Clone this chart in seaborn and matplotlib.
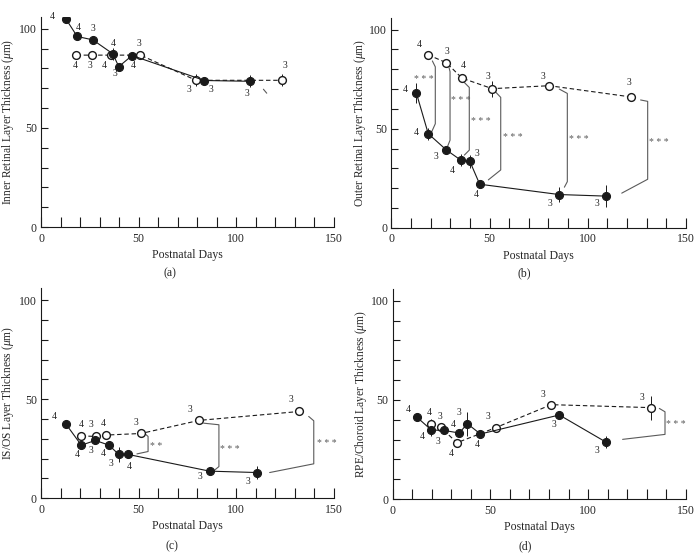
import matplotlib
matplotlib.use("Agg")
import matplotlib.pyplot as plt
import seaborn as sns
from matplotlib.ticker import MultipleLocator

# ---- data (days, thickness in um, error, n) ----
# panel a - inner retinal layer
a_filled_days = [12.6, 18.5, 26.5, 36.7, 39.8, 46.6, 83.7, 107.0]
a_filled = [105.1, 96.1, 94.4, 87.4, 80.9, 86.5, 73.9, 73.5]
a_filled_err = [1.0, 1.5, 1.5, 3.0, 2.0, 1.5, 2.0, 3.0]
a_filled_n = [4, 4, 3, 4, 3, 4, 3, 3]
a_open_days = [18.1, 26.1, 36.0, 50.9, 79.4, 123.5]
a_open = [86.7, 86.7, 86.7, 86.7, 74.0, 74.0]
a_open_err = [1.0, 1.0, 1.5, 1.0, 3.0, 3.0]
a_open_n = [4, 3, 4, 3, 3, 3]

# panel b - outer retinal layer
b_filled_days = [12.7, 18.8, 28.0, 35.3, 40.0, 45.0, 85.4, 109.3]
b_filled = [68.2, 47.5, 39.3, 34.2, 33.5, 22.0, 16.8, 16.0]
b_filled_err = [5.0, 3.0, 1.5, 3.0, 3.3, 1.5, 3.7, 5.5]
b_filled_n = [4, 4, 3, 4, 3, 4, 3, 3]
b_open_days = [18.7, 28.0, 36.0, 51.4, 80.4, 122.2]
b_open = [87.3, 83.3, 75.5, 70.2, 71.7, 66.0]
b_open_err = [1.0, 1.5, 1.5, 4.0, 1.5, 1.0]
b_open_n = [4, 3, 4, 3, 3, 3]

# panel c - IS/OS layer
c_filled_days = [12.6, 20.6, 27.8, 34.8, 39.8, 44.7, 86.3, 110.6]
c_filled = [37.6, 26.8, 29.2, 26.8, 22.1, 22.1, 13.7, 13.0]
c_filled_err = [1.0, 1.5, 1.5, 1.5, 4.0, 1.0, 1.5, 3.5]
c_filled_n = [4, 4, 3, 4, 3, 4, 3, 3]
c_open_days = [20.5, 28.0, 33.1, 51.2, 80.9, 132.3]
c_open = [31.5, 31.2, 31.9, 32.7, 39.3, 43.8]
c_open_err = [1.5, 1.5, 1.0, 1.0, 1.0, 1.0]
c_open_n = [4, 3, 4, 3, 3, 3]

# panel d - RPE/choroid layer
d_filled_days = [12.5, 19.8, 26.3, 34.1, 38.2, 44.9, 85.3, 109.2]
d_filled = [41.2, 34.8, 34.6, 33.3, 38.0, 32.8, 42.4, 28.7]
d_filled_err = [1.0, 3.0, 1.5, 1.5, 6.0, 1.0, 2.0, 3.0]
d_filled_n = [4, 4, 3, 4, 3, 4, 3, 3]
d_open_days = [19.5, 24.6, 32.9, 52.7, 81.2, 132.3]
d_open = [37.8, 36.1, 28.4, 36.0, 47.6, 46.1]
d_open_err = [2.5, 1.5, 1.0, 1.0, 1.0, 6.0]
d_open_n = [4, 3, 4, 3, 3, 3]

ylabels = ["Inner Retinal Layer Thickness ($\\mu$m)",
           "Outer Retinal Layer Thickness ($\\mu$m)",
           "IS/OS Layer Thickness ($\\mu$m)",
           "RPE/Choroid Layer Thickness ($\\mu$m)"]
panel_tags = ["(a)", "(b)", "(c)", "(d)"]

# ---- label offsets (points) for the n counts ----
a_filled_off = [(-9.8, 1.2), (0.7, 6.7), (0, 8.4), (0.7, 7.7), (-2.9, -5.3), (0.7, -7.4), (4.8, -6.7), (-1.9, -9.1)]
a_open_off = [(-0.7, -7.7), (-1.2, -7.7), (-5, -7.7), (-1, 8.6), (-5.3, -6.5), (1.7, 10.3)]
b_filled_off = [(-8.2, 1.9), (-8.4, 1.2), (-7.4, -5), (-5.8, -7.2), (4.8, 5.8), (-2.6, -7.2), (-6.5, -6.2), (-6.7, -5)]
b_open_off = [(-6.5, 7.4), (0.2, 8.4), (1, 9.4), (-2.9, 8.6), (-4.8, 6.5), (-1.9, 10.6)]
c_filled_off = [(-7.9, 5.3), (-3.1, -7), (-2.9, -7.2), (-4.3, -6.2), (-5.3, -6.7), (1, -8.6), (-7.2, -3.8), (-6.5, -6.7)]
c_open_off = [(-0.2, 8.4), (-3.8, 8.4), (-1.9, 8.6), (-3.4, 7.9), (-6.2, 8.2), (-5.8, 8.9)]
d_filled_off = [(-6.2, 5.8), (-6.5, -4.8), (-4.1, -7.7), (-4.3, 5.8), (-5.8, 7.9), (-2.6, -7.2), (-3.8, -7.2), (-6.7, -5.8)]
d_open_off = [(-1.2, 8.2), (-0.5, 7.7), (-3.8, -7.7), (-5.3, 7.9), (-5.8, 7), (-6.7, 7)]

# significance brackets: path x, path y, label, label position
a_brackets = [([113.9, 115.6], [69.5, 67.5], "", None)]
b_brackets = [
    ([20.9, 22.4, 22.4, 20.5], [84.2, 81.2, 52.5, 48.3], "* * *", (16.6, 75.8)),
    ([29.4, 29.9, 29.9, 28.7], [80.8, 78.8, 44.2, 41.2], "* * *", (35.5, 65.0)),
    ([37.2, 39.7, 39.7, 37.2], [73.3, 70.8, 39.2, 36.7], "* * *", (45.6, 54.7)),
    ([53.3, 55.7, 55.7, 49.4], [68.3, 65.8, 29.2, 24.2], "* * *", (61.6, 46.7)),
    ([85.5, 89.6, 89.6, 88.1], [70.0, 67.8, 23.3, 20.5], "* * *", (95.2, 45.8)),
    ([126.9, 130.5, 130.5, 117.3], [64.5, 63.8, 24.5, 17.5], "* * *", (136.3, 43.8)),
]
c_brackets = [
    ([53.4, 54.8, 54.8, 49.1], [32.4, 31.2, 23.6, 22.4], "* *", (58.7, 27.3)),
    ([83.3, 91.1, 91.1, 88.6], [37.9, 37.1, 16.0, 14.0], "* * *", (96.6, 25.6)),
    ([137.1, 139.7, 139.7, 117.1], [41.3, 39.1, 17.4, 13.0], "* * *", (146.2, 28.6)),
]
d_brackets = [
    ([136.5, 139.4, 139.4, 117.7], [45.7, 44.0, 32.6, 30.1], "* * *", (145.0, 38.5)),
]

panels = [
    (a_filled_days, a_filled, a_filled_err, a_filled_n, a_filled_off,
     a_open_days, a_open, a_open_err, a_open_n, a_open_off, a_brackets),
    (b_filled_days, b_filled, b_filled_err, b_filled_n, b_filled_off,
     b_open_days, b_open, b_open_err, b_open_n, b_open_off, b_brackets),
    (c_filled_days, c_filled, c_filled_err, c_filled_n, c_filled_off,
     c_open_days, c_open, c_open_err, c_open_n, c_open_off, c_brackets),
    (d_filled_days, d_filled, d_filled_err, d_filled_n, d_filled_off,
     d_open_days, d_open, d_open_err, d_open_n, d_open_off, d_brackets),
]

sns.set_theme(style="ticks")
plt.rcParams["font.family"] = ["Liberation Serif", "DejaVu Serif"]
plt.rcParams["mathtext.fontset"] = "custom"
plt.rcParams["mathtext.rm"] = "Liberation Serif"
plt.rcParams["mathtext.it"] = "Liberation Serif:italic"

fig = plt.figure(figsize=(6.97, 5.53), dpi=100)
ax_pos = [[0.059, 0.5895, 0.42, 0.38], [0.5614, 0.5880, 0.4228, 0.38],
          [0.059, 0.0989, 0.42, 0.38], [0.5634, 0.0976, 0.4204, 0.38]]
ylabel_x = [-0.086, -0.079, -0.086, -0.081]
tag_pos = [(0.2445, 0.506), (0.752, 0.506), (0.247, 0.013), (0.754, 0.013)]
bracket_color = "#5a5a5a"

for i, (fd, fv, fe, fn, foff, od, ov, oe, on, ooff, brs) in enumerate(panels):
    ax = fig.add_axes(ax_pos[i])

    # error bars
    ax.errorbar(fd, fv, yerr=fe, fmt="none", ecolor="k", elinewidth=0.7, capsize=0, zorder=2)
    ax.errorbar(od, ov, yerr=oe, fmt="none", ecolor="k", elinewidth=0.7, capsize=0, zorder=2)

    # series
    sns.lineplot(x=od, y=ov, ax=ax, sort=False, estimator=None, color="k",
                 linewidth=0.8, linestyle=(0, (4, 2.5)), marker="o", markersize=5.6,
                 markerfacecolor="white", markeredgecolor="k", markeredgewidth=1.0, zorder=3)
    sns.lineplot(x=fd, y=fv, ax=ax, sort=False, estimator=None, color="k",
                 linewidth=0.8, marker="o", markersize=5.8,
                 markerfacecolor="k", markeredgecolor="k", zorder=4)

    # n counts
    for x, y, n, off in zip(fd, fv, fn, foff):
        ax.annotate(str(n), (x, y), xytext=off, textcoords="offset points",
                    ha="center", va="center", fontsize=7, color="#262626")
    for x, y, n, off in zip(od, ov, on, ooff):
        ax.annotate(str(n), (x, y), xytext=off, textcoords="offset points",
                    ha="center", va="center", fontsize=7, color="#262626")

    # brackets
    for bx, by, lab, lpos in brs:
        ax.plot(bx, by, color=bracket_color, linewidth=0.8, clip_on=False, zorder=1)
        if lab:
            ax.text(lpos[0], lpos[1] - 1.0, lab, ha="center", va="center", fontsize=7,
                    color=bracket_color, clip_on=False)

    ax.set_xlim(0, 150)
    ax.set_ylim(0, 106)
    ax.xaxis.set_major_locator(MultipleLocator(50))
    ax.xaxis.set_minor_locator(MultipleLocator(10))
    ax.yaxis.set_major_locator(MultipleLocator(50))
    ax.yaxis.set_minor_locator(MultipleLocator(10))
    ax.tick_params(axis="x", which="both", direction="in", length=7, width=0.8,
                   labelsize=8.5, pad=4, color="k")
    ax.tick_params(axis="y", which="both", direction="in", length=5, width=0.8,
                   labelsize=8.5, pad=3, color="k")
    for s in ["top", "right"]:
        ax.spines[s].set_visible(False)
    for s in ["left", "bottom"]:
        ax.spines[s].set_linewidth(0.8)
        ax.spines[s].set_color("k")
    ax.set_xlabel("Postnatal Days", fontsize=8.5, labelpad=3)
    ax.set_ylabel(ylabels[i], fontsize=8.3)
    ax.yaxis.set_label_coords(ylabel_x[i], 0.5)
    ax.set_facecolor("white")
    fig.text(tag_pos[i][0], tag_pos[i][1], panel_tags[i], ha="center", va="center", fontsize=8.5)

fig.savefig("out.png", dpi=100, facecolor="white")
